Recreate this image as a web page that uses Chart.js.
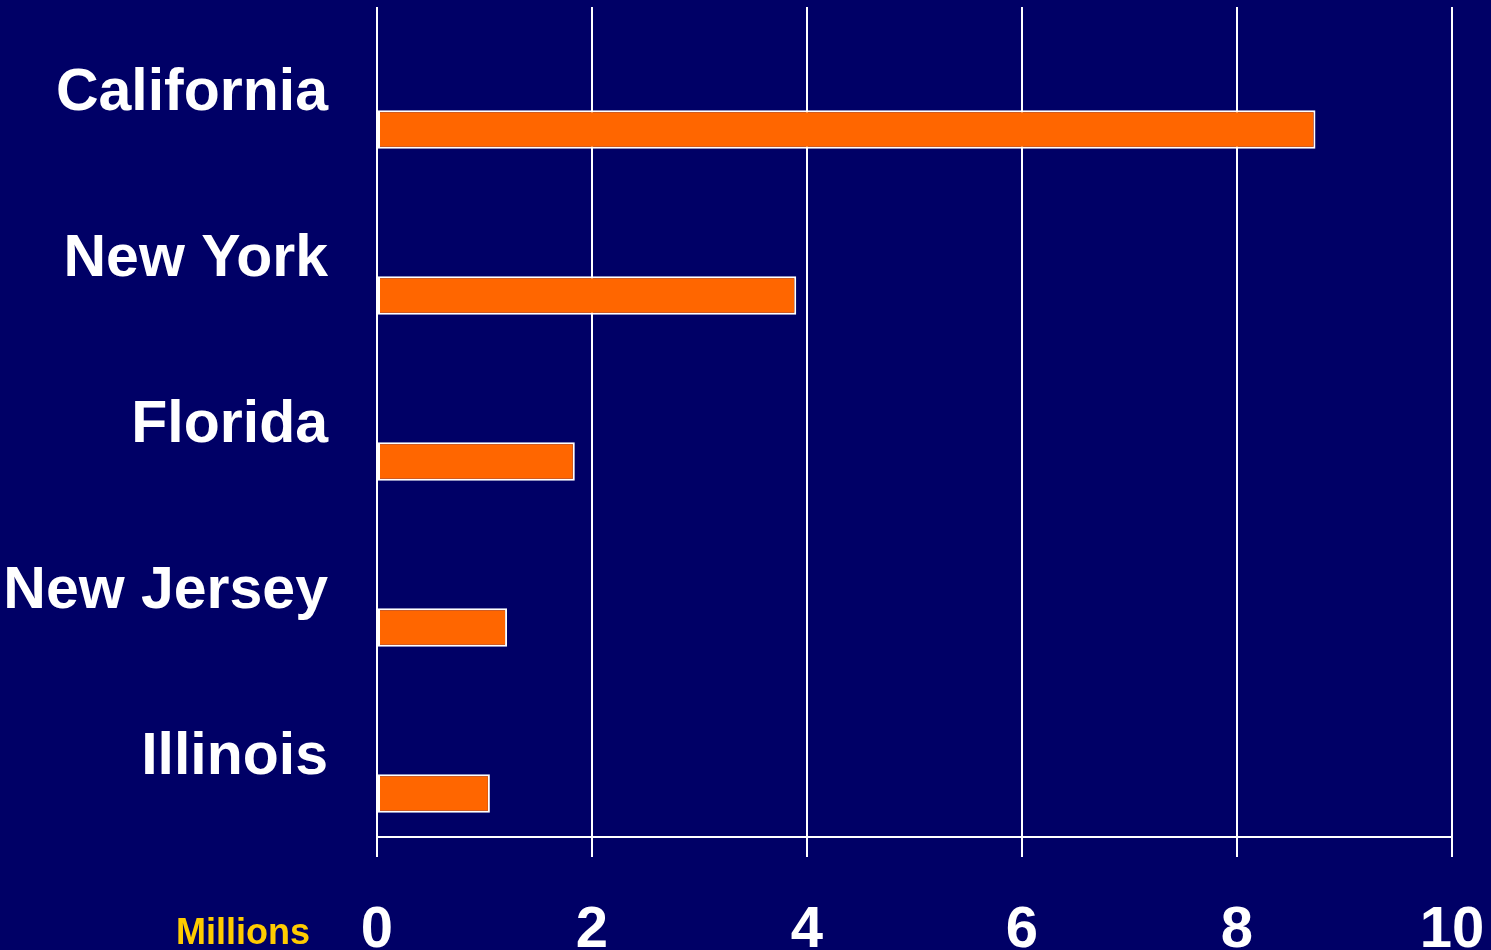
<!DOCTYPE html>
<html>
<head>
<meta charset="utf-8">
<title>States</title>
<script src="https://cdn.jsdelivr.net/npm/chart.js@4/dist/chart.umd.min.js"></script>
<style>
  html, body { margin: 0; padding: 0; background: #000066; }
  #wrap { position: relative; width: 1491px; height: 950px; overflow: hidden; }
  #unit {
    position: absolute; left: 176px; top: 914px;
    font: bold 36px "Liberation Sans", Arial, sans-serif; line-height: 36px;
    color: #ffcc00;
  }
</style>
</head>
<body>
<div id="wrap">
  <canvas id="chart" width="1491" height="950"></canvas>
  <div id="unit">Millions</div>
</div>
<script>
/* =========================================================
   Horizontal bars — millions, by state
   ========================================================= */

const states = ['California', 'New York', 'Florida', 'New Jersey', 'Illinois'];
const millions = [8.73, 3.9, 1.84, 1.21, 1.05];
const tickValues = [0, 2, 4, 6, 8, 10];

const FONT = '"Liberation Sans", Arial, sans-serif';

// empty first dataset pushes the real bars into the lower half of each row
const spacer = states.map(() => null);

new Chart(document.getElementById('chart'), {
  type: 'bar',
  data: {
    labels: states,
    datasets: [
      { data: spacer, backgroundColor: 'transparent' },
      {
        data: millions,
        backgroundColor: '#ff6600',
        borderColor: '#ffffff',
        borderWidth: 2,
        borderSkipped: false
      }
    ]
  },
  options: {
    indexAxis: 'y',
    responsive: false,
    animation: false,
    categoryPercentage: 0.952,
    barPercentage: 0.49,
    layout: { padding: { top: 7, right: 39, left: 0, bottom: 0 } },
    plugins: { legend: { display: false }, tooltip: { enabled: false } },
    scales: {
      x: {
        min: 0, max: 10,
        afterBuildTicks: s => { s.ticks = tickValues.map(v => ({ value: v })); },
        afterFit: s => {
          s.height = 113;
          s.paddingLeft = 0; s.paddingRight = 0;
        },
        grid: { color: '#ffffff', lineWidth: 2, tickLength: 20, drawTicks: true },
        border: { color: '#ffffff', width: 2 },
        ticks: { color: '#ffffff', padding: 39, font: { family: FONT, size: 58, weight: 'bold' } }
      },
      y: {
        afterFit: s => {
          s.width = 377;
          s.paddingTop = 0; s.paddingBottom = 0;
        },
        grid: { display: false },
        border: { display: false },
        ticks: { color: '#ffffff', padding: 41, labelOffset: 4, font: { family: FONT, size: 59, weight: 'bold' } }
      }
    }
  }
});
</script>
</body>
</html>
